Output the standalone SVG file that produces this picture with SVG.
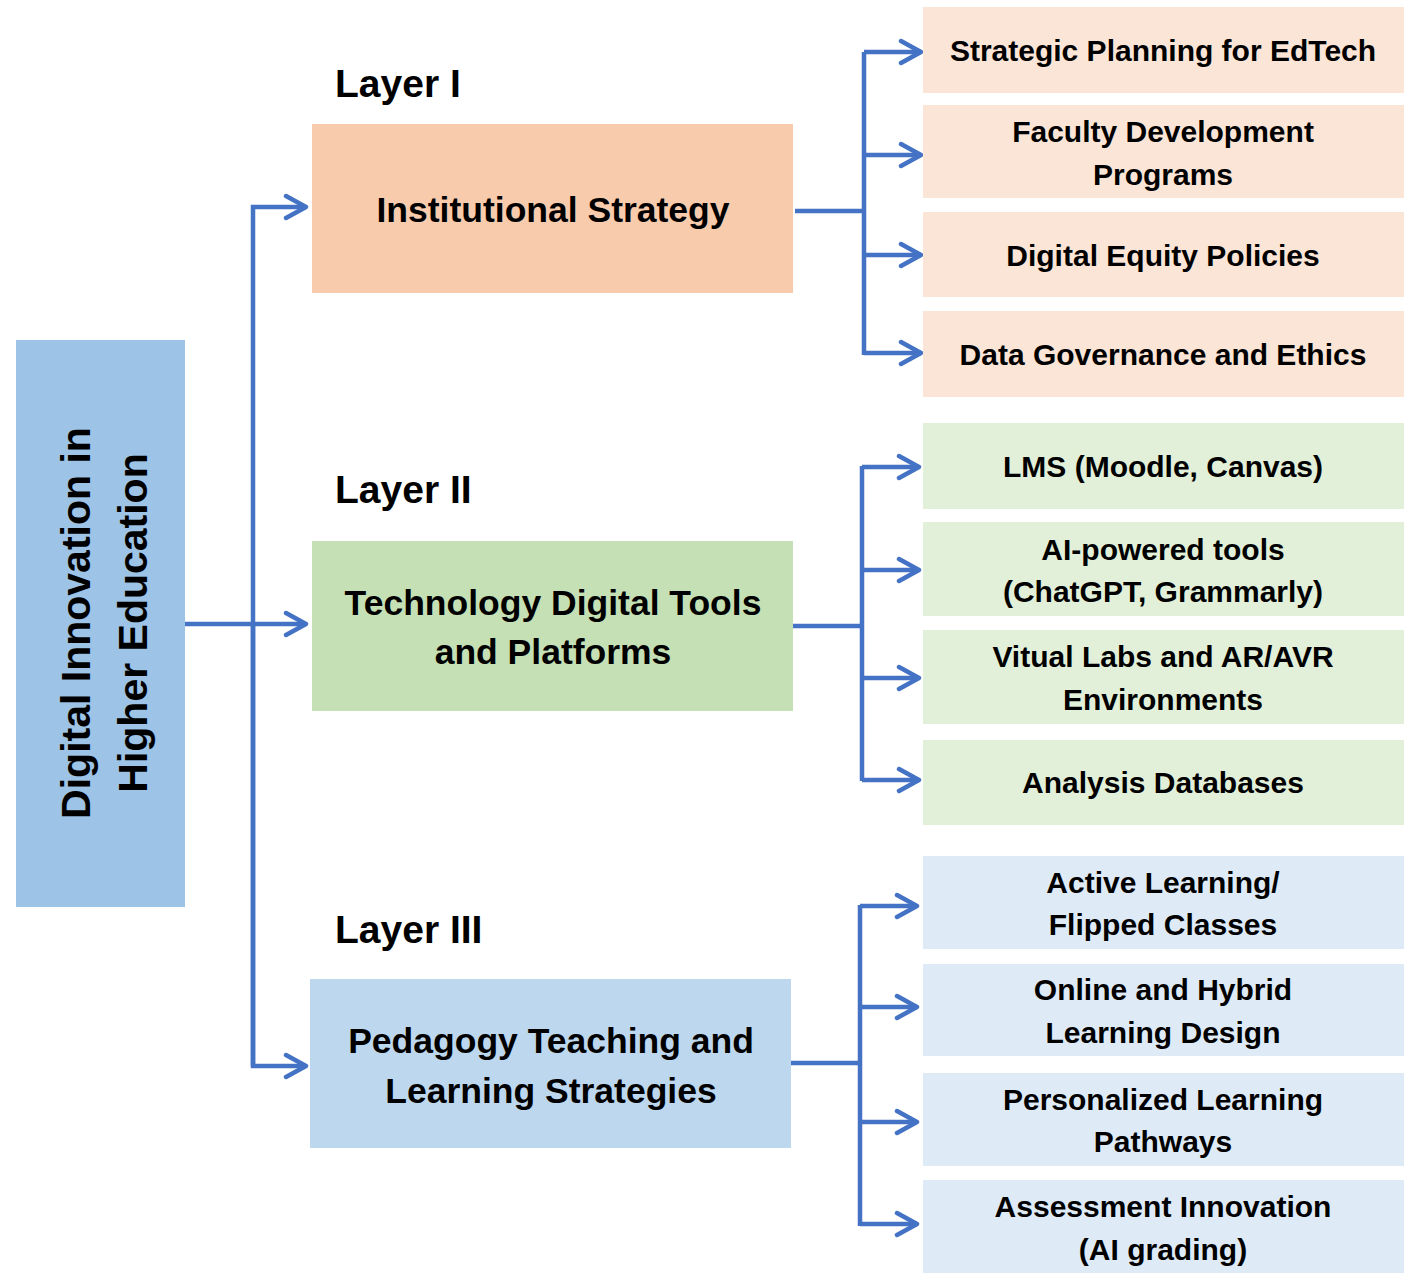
<svg xmlns="http://www.w3.org/2000/svg" width="1417" height="1283" viewBox="0 0 1417 1283">
<style>
text{font-family:"Liberation Sans",Arial,sans-serif;font-weight:bold;fill:#000}
.t{font-size:35.5px;text-anchor:middle}
.s{font-size:30px;text-anchor:middle}
.lay{font-size:39px}
.c{fill:none;stroke:#4472C4;stroke-width:4.5;stroke-linejoin:miter}
.a{marker-end:url(#ah)}
</style>
<defs>
<marker id="ah" markerUnits="userSpaceOnUse" markerWidth="26" markerHeight="28" viewBox="0 0 26 28" refX="23" refY="14" orient="auto">
<path d="M3,3 L23,14 L3,25" fill="none" stroke="#4472C4" stroke-width="4.5" stroke-linecap="round" stroke-linejoin="round"/>
</marker>
</defs>
<rect width="1417" height="1283" fill="#fff"/>
<g id="connectors">
<path class="c" d="M253,1066 V207 H306" marker-end="url(#ah)"/>
<path class="c" d="M253,624 V1066 H306" marker-end="url(#ah)"/>
<path class="c" d="M185,624 H306" marker-end="url(#ah)"/>
<path class="c" d="M795,211 H864"/>
<path class="c" d="M864,355 V52"/>
<path class="c a" d="M864,52 H921"/>
<path class="c a" d="M864,155 H921"/>
<path class="c a" d="M864,255 H921"/>
<path class="c a" d="M864,353 H921"/>
<path class="c" d="M793,626 H862"/>
<path class="c" d="M862,781 V466"/>
<path class="c a" d="M862,467 H919"/>
<path class="c a" d="M862,570 H919"/>
<path class="c a" d="M862,678 H919"/>
<path class="c a" d="M862,780 H919"/>
<path class="c" d="M791,1063 H860"/>
<path class="c" d="M860,1226 V905"/>
<path class="c a" d="M860,906 H917"/>
<path class="c a" d="M860,1007 H917"/>
<path class="c a" d="M860,1122 H917"/>
<path class="c a" d="M860,1224 H917"/>
</g>
<g id="root">
<rect x="16" y="340" width="169" height="567" fill="#9DC3E6"/>
<text style="font-size:41px;text-anchor:middle" transform="translate(90,623) rotate(-90)">Digital Innovation in</text>
<text style="font-size:41px;text-anchor:middle" transform="translate(147,623) rotate(-90)">Higher Education</text>
</g>
<g id="layer1-label"><text class="lay" x="335" y="97">Layer I</text></g>
<g id="layer2-label"><text class="lay" x="335" y="503">Layer II</text></g>
<g id="layer3-label"><text class="lay" x="335" y="943">Layer III</text></g>
<g id="institutional">
<rect x="312" y="124" width="481" height="169" fill="#F8CBAD"/>
<text class="t" x="553" y="222">Institutional Strategy</text>
</g>
<g id="technology">
<rect x="312" y="541" width="481" height="170" fill="#C5E0B4"/>
<text class="t" x="553" y="615">Technology Digital Tools</text>
<text class="t" x="553" y="664">and Platforms</text>
</g>
<g id="pedagogy">
<rect x="310" y="979" width="481" height="169" fill="#BDD7EE"/>
<text class="t" x="551" y="1053">Pedagogy Teaching and</text>
<text class="t" x="551" y="1103">Learning Strategies</text>
</g>
<g id="n1"><rect x="923" y="7" width="481" height="86" fill="#FBE5D6"/><text class="s" x="1163" y="61">Strategic Planning for EdTech</text></g>
<g id="n2"><rect x="923" y="105" width="481" height="93" fill="#FBE5D6"/><text class="s" x="1163" y="142">Faculty Development</text><text class="s" x="1163" y="185">Programs</text></g>
<g id="n3"><rect x="923" y="212" width="481" height="85" fill="#FBE5D6"/><text class="s" x="1163" y="266">Digital Equity Policies</text></g>
<g id="n4"><rect x="923" y="311" width="481" height="86" fill="#FBE5D6"/><text class="s" x="1163" y="365">Data Governance and Ethics</text></g>
<g id="n5"><rect x="923" y="423" width="481" height="86" fill="#E2F0D9"/><text class="s" x="1163" y="477">LMS (Moodle, Canvas)</text></g>
<g id="n6"><rect x="923" y="522" width="481" height="94" fill="#E2F0D9"/><text class="s" x="1163" y="560">AI-powered tools</text><text class="s" x="1163" y="602">(ChatGPT, Grammarly)</text></g>
<g id="n7"><rect x="923" y="630" width="481" height="94" fill="#E2F0D9"/><text class="s" x="1163" y="667">Vitual Labs and AR/AVR</text><text class="s" x="1163" y="710">Environments</text></g>
<g id="n8"><rect x="923" y="740" width="481" height="85" fill="#E2F0D9"/><text class="s" x="1163" y="793">Analysis Databases</text></g>
<g id="n9"><rect x="923" y="856" width="481" height="93" fill="#DEEBF7"/><text class="s" x="1163" y="893">Active Learning/</text><text class="s" x="1163" y="935">Flipped Classes</text></g>
<g id="n10"><rect x="923" y="964" width="481" height="92" fill="#DEEBF7"/><text class="s" x="1163" y="1000">Online and Hybrid</text><text class="s" x="1163" y="1043">Learning Design</text></g>
<g id="n11"><rect x="923" y="1073" width="481" height="93" fill="#DEEBF7"/><text class="s" x="1163" y="1110">Personalized Learning</text><text class="s" x="1163" y="1152">Pathways</text></g>
<g id="n12"><rect x="923" y="1180" width="481" height="93" fill="#DEEBF7"/><text class="s" x="1163" y="1217">Assessment Innovation</text><text class="s" x="1163" y="1260">(AI grading)</text></g>
</svg>
